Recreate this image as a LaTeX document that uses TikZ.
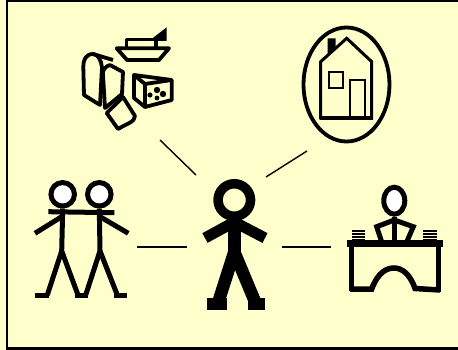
\documentclass[tikz,border=0pt]{standalone}
\usepackage{tikz}
\usetikzlibrary{shapes.geometric}
\definecolor{paper}{HTML}{FFFFCC}

\begin{document}
\begin{tikzpicture} [
    x=1pt, y=-1pt,
    head/.style={circle, draw, fill=white, inner sep=0pt},
    oval_head/.style={ellipse, draw, fill=white, inner sep=0pt},
    line/.style={draw, line width=1.4pt},
    limb/.style={draw, line width=5pt},
    thick_limb/.style={draw, line width=12.5pt},
    pict/.style={draw, line width=3.8pt, line join=round},
    paper_line/.style={draw, line width=1.1pt}
]
    \useasboundingbox (0,0) rectangle (458,350);
    \fill[paper] (0,0) rectangle (458,350);
    \path[draw, line width=2.4pt] (458,1) -- (7,1) -- (7,348.5) -- (458,348.5);

    % Food
    \path[pict, line width=3.2pt] (126.7,48.3) -- (126.7,39.3) -- (156,39.3) -- (156,48.3);
    \path[pict, fill=paper] (116.7,48.3) -- (169,48.3) -- (159,60) -- (127,60) -- cycle;
    \fill (149,41) -- (166.7,27.3) -- (166.7,41) -- cycle;
    \path[pict] (102,67) .. controls (101,60) and (98,54) .. (93,54) .. controls (86,54) and (83,60) .. (83.3,67) -- (84,95) -- (100,105) -- (102,67);
    \path[pict] (93,54) -- (113,60);
    \path[pict, fill=paper] (105,108) -- (122,94) -- (123,72) -- (110,65) .. controls (106,66) and (102,70) .. (103,75) -- cycle;
    \path[pict] (106.7,113) -- (123,97) -- (135,116) .. controls (135,122) and (126,124) .. (118,129) -- cycle;
    \path[pict] (134,75) -- (171.7,80) -- (171.7,100) -- (145,107) -- (134,98) -- cycle;
    \path[pict] (134,75) -- (145,84) -- (171.7,80) (145,84) -- (145,107);
    \fill (157,90) circle (3.2) (150,95) circle (2.6) (163,94) circle (3.2) (157,98) circle (2.4);

    % House
    \node[ellipse, draw, line width=3.8pt, minimum width=86pt, minimum height=114pt, inner sep=0pt] (house_ring) at (346.5,84.5) {};
    \path[pict, line width=3pt, line join=miter] (320.7,118) -- (320.7,61.7) -- (346.7,38.3) -- (371.7,61.7) -- (371.7,118) -- cycle;
    \path[draw, line width=4pt] (320,118) -- (372.5,118);
    \fill (327.7,38.3) -- (335.7,38.3) -- (335.7,50) -- (327.7,55.5) -- cycle;
    \path[draw, line width=2pt] (329.3,71.7) rectangle (343.3,88.3);
    \path[draw, line width=1.6pt] (350,117) -- (350,80) -- (365,80) -- (365,117);

    % Pair of friends
    \node[head, line width=5pt, minimum size=23.5pt] (pair_head_a) at (62.7,194.3) {};
    \node[head, line width=5pt, minimum size=23.5pt] (pair_head_b) at (99.3,194.3) {};
    \coordinate (hip_a) at (61.7,251);
    \coordinate (hip_b) at (100,251);
    \path[limb] (48.3,211.7) -- (114.3,212.7);
    \path[limb] (pair_head_a.south) -- (hip_a);
    \path[limb] (pair_head_b.south) -- (hip_b);
    \path[limb] (61.7,216.7) -- (35,233.3);
    \path[limb] (100,216.7) -- (128.3,233.3);
    \path[limb] (hip_a) -- (47.3,295);
    \path[limb] (hip_a) -- (78,295);
    \path[limb] (hip_b) -- (85.7,295);
    \path[limb] (hip_b) -- (117.3,295);
    \path[limb] (35,295) -- (49,295);
    \path[limb] (75,295) -- (88,295);
    \path[limb] (114,295) -- (127.3,295);

    % Person in the middle
    \node[head, fill=paper, line width=9.5pt, minimum size=32.5pt] (person_head) at (234.3,200) {};
    \coordinate (person_hip) at (234.3,252);
    \path[thick_limb] (person_head.south) -- (person_hip);
    \path[thick_limb, line width=11pt] (234.3,222) -- (205,238);
    \path[thick_limb, line width=11pt] (234.3,222) -- (265,238);
    \path[thick_limb, line join=round] (218,303) -- (person_hip) -- (255.6,303);
    \fill (207.3,298.3) rectangle (226.7,310);
    \fill (248.3,298.3) rectangle (265,310);

    % Person at the desk
    \node[oval_head, line width=5pt, minimum width=21pt, minimum height=27pt] (desk_head) at (394.3,200.7) {};
    \coordinate (desk_neck) at (394.3,220);
    \path[limb] (desk_head.south) -- (394.3,242);
    \path[limb, line join=miter] (381.7,242) -- (376.7,226.7) -- (desk_neck) -- (413.3,226.7) -- (406.7,242);
    \path[limb, line width=7pt] (346.7,243.3) -- (442.7,243.3);
    \path[limb] (351.7,243) -- (351.7,291);
    \path[limb] (438.3,243) -- (438.3,292);
    \path[limb, line width=5.5pt] (350,289) -- (371.7,289) .. controls (378,272) and (387,268) .. (394,268)
        .. controls (402,268) and (410,274) .. (415,288.5) -- (440,290);
    \foreach \y in {231,234,237,239.5} {
        \path[paper_line] (352.3,\y) -- (365,\y);
        \path[paper_line] (423.3,\y) -- (436.7,\y);
    }

    % Lines
    \coordinate (food_end) at (160,140);
    \coordinate (food_start) at (196,175);
    \coordinate (house_end) at (307,151);
    \coordinate (house_start) at (266,177);
    \coordinate (pair_end) at (137,247);
    \coordinate (pair_start) at (187,247);
    \coordinate (desk_end) at (331,247);
    \coordinate (desk_start) at (282,247);
    \path [line] (food_start) -- (food_end);
    \path [line] (house_start) -- (house_end);
    \path [line] (pair_start) -- (pair_end);
    \path [line] (desk_start) -- (desk_end);

\end{tikzpicture}
\end{document}
